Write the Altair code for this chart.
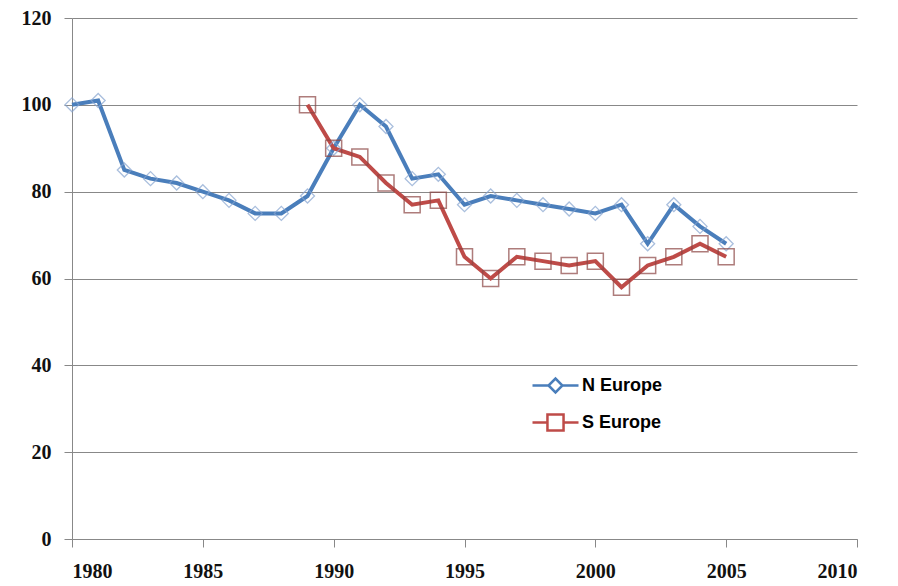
import altair as alt
import pandas as pd

years_n = list(range(1980, 2006))
n_europe = [100, 101, 85, 83, 82, 80, 78, 75, 75, 79, 90, 100, 95, 83, 84,
            77, 79, 78, 77, 76, 75, 77, 68, 77, 72, 68]
years_s = list(range(1989, 2006))
s_europe = [100, 90, 88, 82, 77, 78, 65, 60, 65, 64, 63, 64, 58, 63, 65, 68, 65]

series = ["N Europe", "S Europe"]
line_colors = ["#4A7EBB", "#BE4B48"]
marker_colors = ["#86A4D0", "#8C4644"]
x_ticks = list(range(1980, 2011, 5))
y_ticks = list(range(0, 121, 20))

df = pd.concat([
    pd.DataFrame({"year": years_n, "value": n_europe, "series": series[0]}),
    pd.DataFrame({"year": years_s, "value": s_europe, "series": series[1]}),
])

# legend symbols: a line with a diamond / square marker
diamond_path = "M-1,0H-0.3L0,-0.3L0.3,0L0,0.3L-0.3,0M0.3,0H1"
square_path = "M-1,0H-0.35V-0.35H0.35V0.35H-0.35V0M0.35,0H1"

grid_color = "#888888"


def make_legend():
    return alt.Legend(title=None, orient="none", legendX=459, legendY=343,
                      symbolSize=2116, symbolStrokeWidth=2.5,
                      labelFont="Liberation Sans", labelFontWeight="bold",
                      labelFontSize=18, labelOffset=2, rowPadding=-1)


x_enc = alt.X("year:Q", scale=alt.Scale(domain=[1980, 2010], nice=False),
              axis=alt.Axis(values=x_ticks, format="d", title=None, grid=False,
                            domainColor=grid_color, tickColor=grid_color,
                            tickSize=8, labelPadding=14))
y_enc = alt.Y("value:Q", scale=alt.Scale(domain=[0, 120], nice=False),
              axis=alt.Axis(values=y_ticks, title=None, grid=True,
                            gridColor=grid_color, domainColor=grid_color,
                            tickColor=grid_color, tickSize=8, labelPadding=13))
color_enc = alt.Color("series:N", scale=alt.Scale(domain=series, range=line_colors),
                      legend=make_legend())
shape_enc = alt.Shape("series:N", scale=alt.Scale(domain=series,
                                                  range=[diamond_path, square_path]),
                      legend=make_legend())

lines = alt.Chart(df).mark_line(strokeWidth=4).encode(
    x=x_enc, y=y_enc, color=color_enc, detail="series:N"
)

legend_layer = alt.Chart(df).mark_point(size=0, opacity=0, filled=False).encode(
    x="year:Q", y="value:Q", color=color_enc, shape=shape_enc
)

n_points = alt.Chart(df[df.series == series[0]]).mark_point(
    shape="diamond", size=196, filled=False, strokeWidth=1.3,
    color=marker_colors[0]
).encode(x="year:Q", y="value:Q")

s_points = alt.Chart(df[df.series == series[1]]).mark_point(
    shape="square", size=256, filled=False, strokeWidth=1.5,
    color=marker_colors[1]
).encode(x="year:Q", y="value:Q")

chart = alt.layer(lines, legend_layer, n_points, s_points).properties(
    width=785, height=521,
    autosize=alt.AutoSizeParams(type="none"),
    padding={"left": 64, "top": 10, "right": 30, "bottom": 55},
).configure_view(stroke=None).configure_axis(
    labelFont="Liberation Serif", labelFontWeight="bold", labelFontSize=20,
    labelColor="#111111"
)

chart.save("out.html", embed_options={"renderer": "svg", "actions": False})
